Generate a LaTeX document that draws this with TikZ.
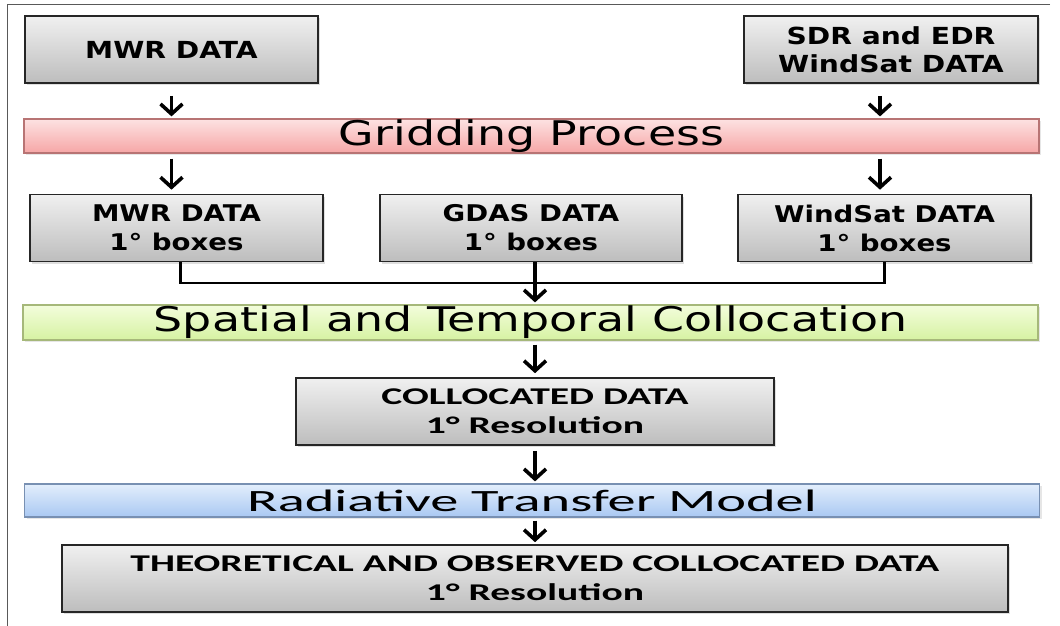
\documentclass[tikz,border=0pt]{standalone}
\usepackage{fontspec}
\usepackage{tikz}
\usetikzlibrary{arrows.meta,positioning,calc,shadows}

\newfontfamily\topfont{DejaVu Sans}[FakeStretch=1.2]
\newfontfamily\barfont{DejaVu Sans}[FakeStretch=1.35]
\newfontfamily\lowfont{Carlito}[FakeStretch=1.65]
\newfontfamily\rtmfont{Carlito}[FakeStretch=1.82]

\definecolor{boxtop}{HTML}{F0F0F0}
\definecolor{boxbot}{HTML}{BDBDBD}
\definecolor{gridtop}{HTML}{FDE2E2}
\definecolor{gridbot}{HTML}{F6A6A6}
\definecolor{gridline}{HTML}{B87474}
\definecolor{coltop}{HTML}{F3FDDC}
\definecolor{colbot}{HTML}{D6F2A2}
\definecolor{colline}{HTML}{A6B87A}
\definecolor{rtmtop}{HTML}{E3EEFC}
\definecolor{rtmbot}{HTML}{A9C8F2}
\definecolor{rtmline}{HTML}{7890B2}

\begin{document}
\begin{tikzpicture}[
    x=1pt, y=-1pt,
    databox/.style={draw=black!85, line width=1.6pt, top color=boxtop, bottom color=boxbot,
        align=center, inner sep=0pt, minimum height=67pt,
        drop shadow={opacity=0.25, shadow xshift=2pt, shadow yshift=-2pt}},
    stagebar/.style={line width=1.2pt, inner sep=0pt, minimum width=1015pt,
        drop shadow={opacity=0.2, shadow xshift=2pt, shadow yshift=-2pt}},
    flow/.style={line width=3.4pt, -{Straight Barb[length=10pt,width=22pt,line width=3.6pt]}},
    link/.style={line width=2.8pt},
]
\useasboundingbox (0,0) rectangle (1060,626);
\draw[black!65, line width=1pt] (1050,5) -- (7,5) -- (7,626);

% Sources
\node[databox, minimum width=293pt, font=\topfont\bfseries\fontsize{23.5}{28}\selectfont] (mwr) at (171.5,49.5) {MWR DATA};
\node[databox, minimum width=294pt, font=\topfont\bfseries\fontsize{23.5}{28}\selectfont] (sdr) at (891,49.5) {SDR and EDR\\WindSat DATA};

% Gridding
\node[stagebar, draw=gridline, top color=gridtop, bottom color=gridbot, minimum height=34pt,
      font=\barfont\fontsize{34}{40}\selectfont] (grid) at (531.5,136) {Gridding Process};

% 1 degree boxes
\node[databox, minimum width=293pt, font=\topfont\bfseries\fontsize{23}{29}\selectfont] (mwrbox) at (176.5,228) {MWR DATA\\1° boxes};
\node[databox, minimum width=302pt, font=\topfont\bfseries\fontsize{23}{29}\selectfont] (gdas) at (531,228) {GDAS DATA\\1° boxes};
\node[databox, minimum width=293pt, font=\topfont\bfseries\fontsize{23}{29}\selectfont] (wsat) at (884.5,228) {WindSat DATA\\1° boxes};

% Collocation
\node[stagebar, draw=colline, top color=coltop, bottom color=colbot, minimum height=35pt,
      font=\barfont\fontsize{34}{40}\selectfont] (spat) at (530.5,322.5) {Spatial and Temporal Collocation};
\node[databox, minimum width=478pt, font=\lowfont\bfseries\fontsize{24}{29}\selectfont] (coll) at (535,411.5) {COLLOCATED DATA\\1° Resolution};

% RTM
\node[stagebar, draw=rtmline, top color=rtmtop, bottom color=rtmbot, minimum height=33pt,
      font=\rtmfont\fontsize{31}{36}\selectfont] (rtm) at (532,500.5) {Radiative Transfer Model};
\node[databox, minimum width=946pt, font=\lowfont\bfseries\fontsize{24}{29}\selectfont] (theo) at (535,578.5) {THEORETICAL AND OBSERVED COLLOCATED DATA\\1° Resolution};

% Arrows
\draw[flow] ([yshift=-12pt]mwr.south) -- ([yshift=2pt]mwr.south |- grid.north);
\draw[flow] ([xshift=-11pt,yshift=-12pt]sdr.south) -- ([xshift=-11pt,yshift=2pt]sdr.south |- grid.north);
\draw[flow] ([yshift=-5pt]mwr.south |- grid.south) -- ([yshift=4pt]mwr.south |- mwrbox.north);
\draw[flow] ([xshift=-11pt,yshift=-5pt]sdr.south |- grid.south) -- ([xshift=-11pt,yshift=4pt]sdr.south |- wsat.north);

\coordinate (join) at (535,283);
\draw[link] ([xshift=4pt]mwrbox.south) |- (join) -| (wsat.south);
\draw[flow] ([xshift=4pt]gdas.south) -- ([xshift=4pt,yshift=2pt]gdas.south |- spat.north);

\draw[flow] ([yshift=-4pt]coll.north |- spat.south) -- ([yshift=4pt]coll.north);
\draw[flow] ([yshift=-5pt]coll.south) -- ([yshift=2pt]coll.south |- rtm.north);
\draw[flow] ([yshift=-3pt]coll.south |- rtm.south) -- ([yshift=2pt]theo.north);
\end{tikzpicture}
\end{document}
